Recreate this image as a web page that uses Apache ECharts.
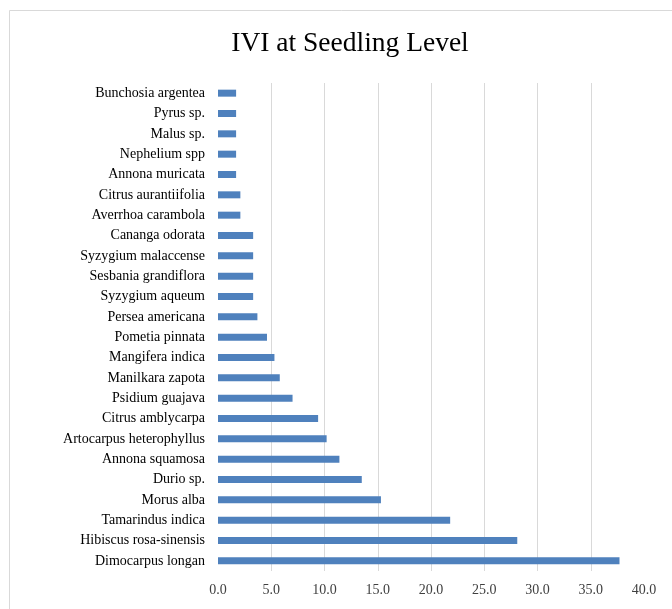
<!DOCTYPE html>
<html>
<head>
<meta charset="utf-8">
<script src="https://cdn.jsdelivr.net/npm/echarts@6/dist/echarts.min.js"></script>
<style>html,body{margin:0;padding:0;background:#fff;}#c{width:672px;height:609px;}</style>
</head>
<body>
<div id="c"></div>
<script>
var categories = ["Dimocarpus longan","Hibiscus rosa-sinensis","Tamarindus indica","Morus alba","Durio sp.","Annona squamosa","Artocarpus heterophyllus","Citrus amblycarpa","Psidium guajava","Manilkara zapota","Mangifera indica","Pometia pinnata","Persea americana","Syzygium aqueum","Sesbania grandiflora","Syzygium malaccense","Cananga odorata","Averrhoa carambola","Citrus aurantiifolia","Annona muricata","Nephelium spp","Malus sp.","Pyrus sp.","Bunchosia argentea"];
var ivi = [37.7,28.1,21.8,15.3,13.5,11.4,10.2,9.4,7.0,5.8,5.3,4.6,3.7,3.3,3.3,3.3,3.3,2.1,2.1,1.7,1.7,1.7,1.7,1.7];
var xTicks = [0,5,10,15,20,25,30,35,40];
var titleText = "IVI at Seedling Level";

var chart = echarts.init(document.getElementById('c'), null, {renderer:'canvas'});
var serif = '"Liberation Serif","Times New Roman",serif';
chart.setOption({
  animation:false,
  backgroundColor:'#fff',
  title:{text:titleText,left:345,top:25,textAlign:'center',textStyle:{fontFamily:serif,fontSize:27.5,fontWeight:'normal',color:'#000'}},
  graphic:[{type:'rect',shape:{x:9.5,y:10.5,width:720,height:660},style:{fill:'none',stroke:'#d9d9d9',lineWidth:1},silent:true}],
  grid:{left:218,right:28,top:83,bottom:38,containLabel:false},
  xAxis:{type:'value',min:xTicks[0],max:xTicks[xTicks.length-1],interval:xTicks[1]-xTicks[0],
    axisLine:{show:false},axisTick:{show:false},
    splitLine:{show:true,showMinLine:false,showMaxLine:false,lineStyle:{color:'#d9d9d9',width:1}},
    axisLabel:{formatter:function(v){return v.toFixed(1);},fontFamily:serif,fontSize:14,color:'#404040',margin:12}},
  yAxis:{type:'category',data:categories,axisLine:{show:false},axisTick:{show:false},
    axisLabel:{fontFamily:serif,fontSize:14,color:'#000',margin:13,interval:0}},
  series:[{type:'bar',data:ivi,barWidth:7,itemStyle:{color:'#4F81BD'}}]
});
</script>
</body>
</html>
